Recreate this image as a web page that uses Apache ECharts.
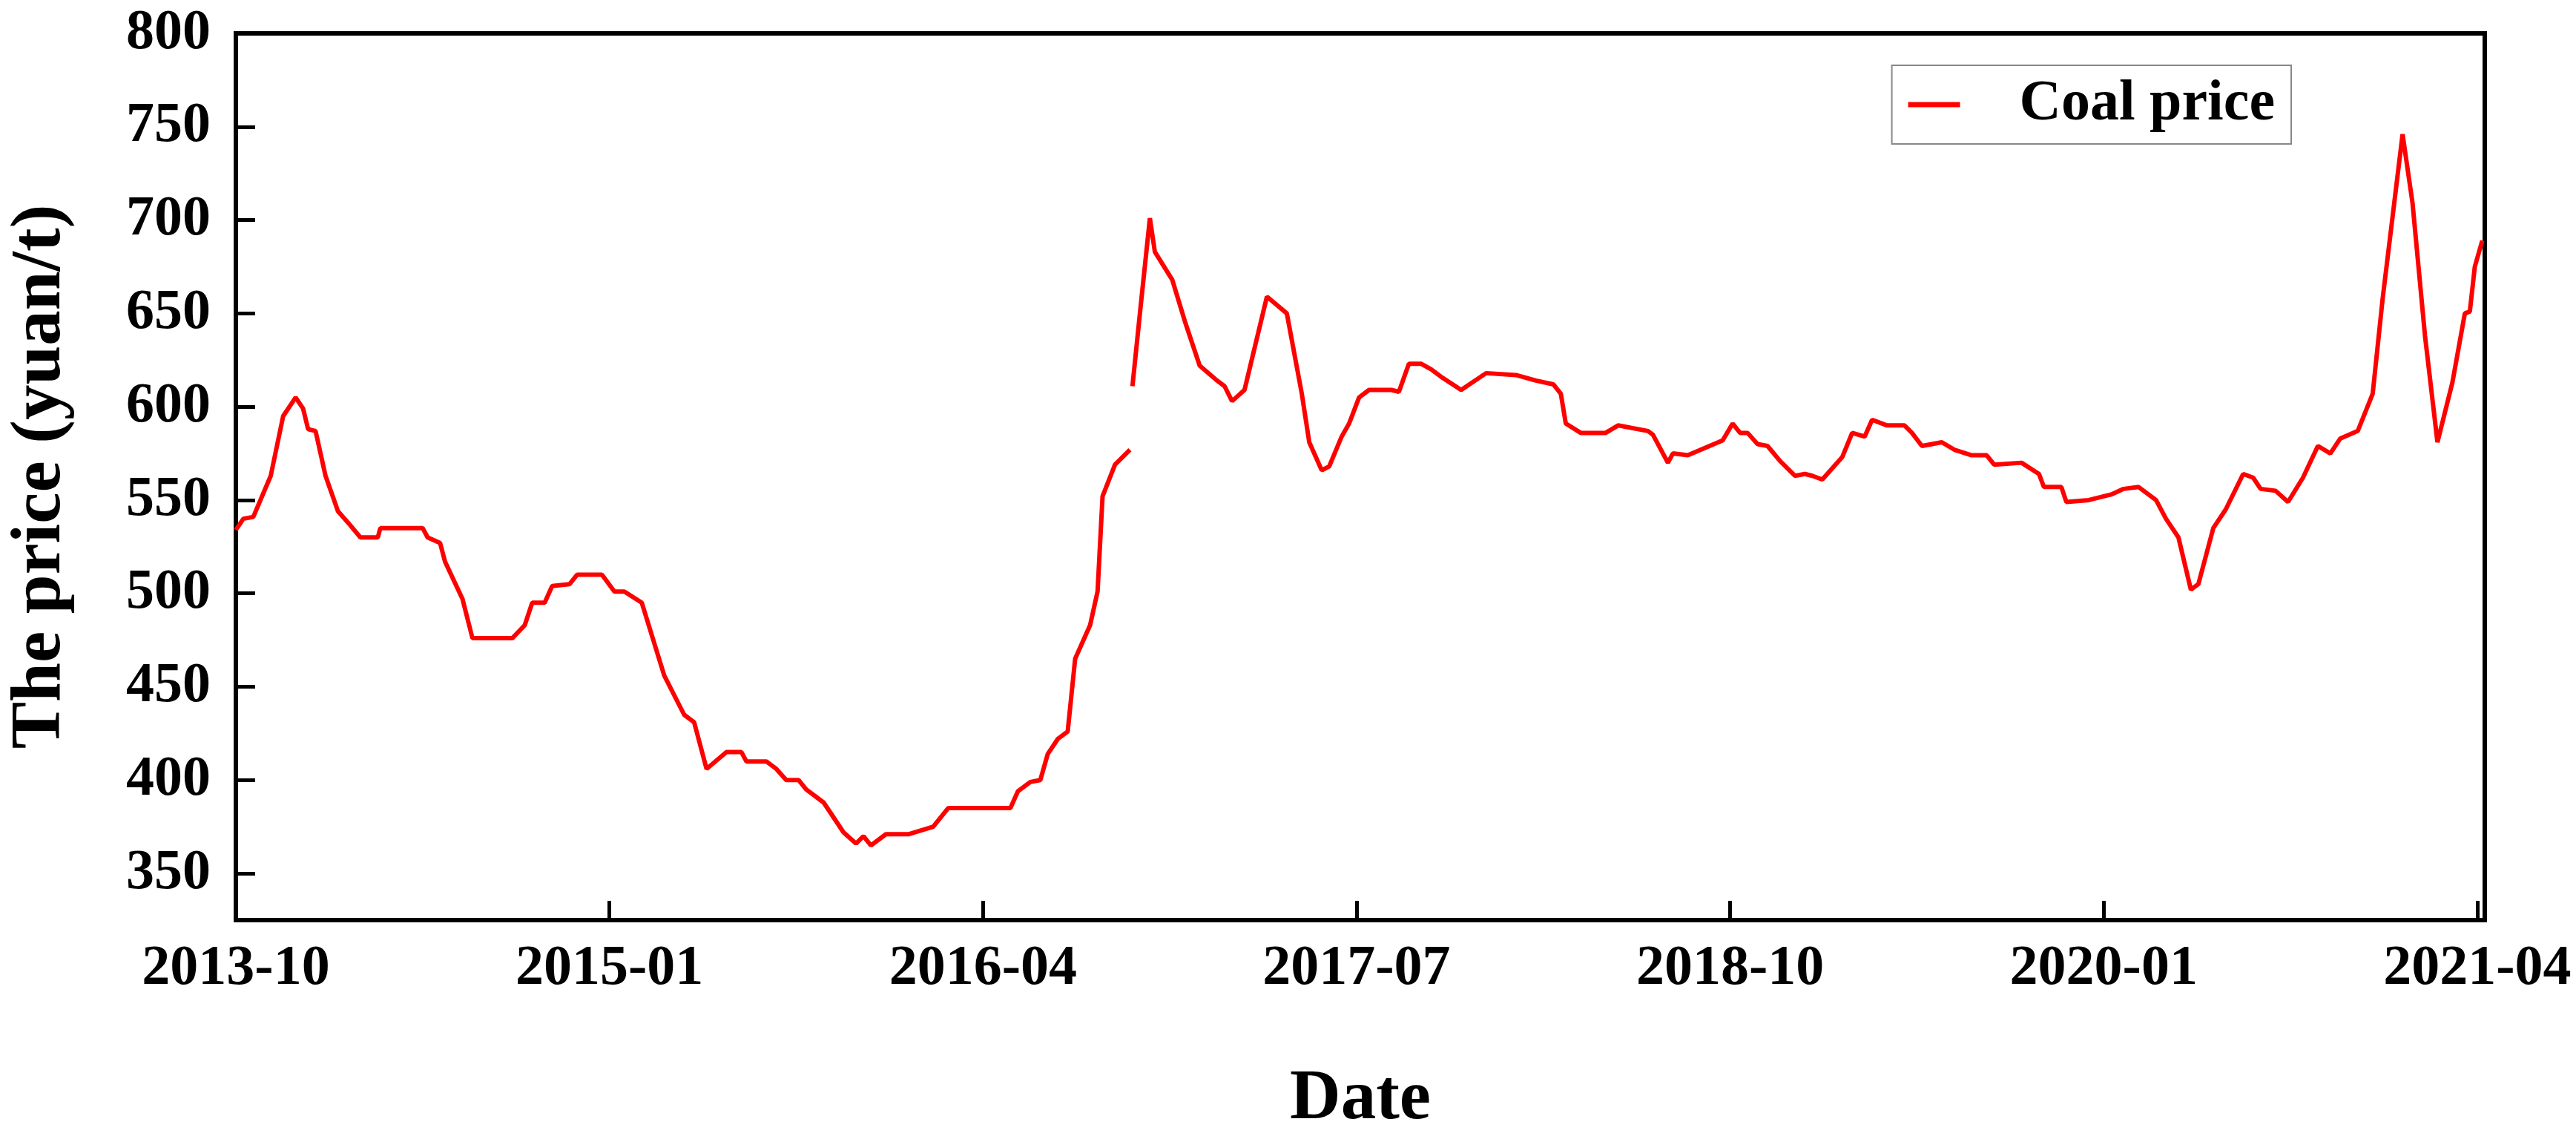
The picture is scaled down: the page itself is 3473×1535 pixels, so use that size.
<!DOCTYPE html>
<html lang="en">
<head>
  <meta charset="UTF-8">
  <title>Coal price</title>
  <script src="https://cdn.jsdelivr.net/npm/echarts@6/dist/echarts.min.js"></script>
</head>
<body style="margin:0">
  <div id="main" style="width:3473px;height:1535px;"></div>
<script>
  // months counted from 2013-10
  let months = [0,0.3,0.7,1.4,1.9,2.4,2.7,2.9,3.2,3.6,4.1,4.5,5.0,5.7,5.8,7.5,7.7,8.2,8.4,9.1,9.5,11.1,11.6,11.9,12.4,12.7,13.4,13.7,14.7,15.2,15.6,16.3,17.2,18.0,18.4,18.9,19.7,20.3,20.5,21.3,21.7,22.1,22.6,22.9,23.6,24.4,24.9,25.2,25.5,26.1,27.0,28.0,28.6,31.1,31.4,31.9,32.3,32.6,33.0,33.4,33.7,34.3,34.6,34.8,35.3,35.9,
    35.95,
    36.0,36.3,36.7,36.9,37.6,38.1,38.7,39.4,39.7,40.0,40.5,41.4,42.2,42.8,43.1,43.6,43.9,44.4,44.7,45.1,45.5,46.4,46.7,47.1,47.6,48.0,48.4,49.2,50.2,51.4,52.2,52.9,53.2,53.4,54.0,55.0,55.5,56.7,56.9,57.5,57.7,58.3,59.7,60.1,60.4,60.7,61.1,61.5,62.0,62.6,63.0,63.3,63.7,64.5,64.9,65.4,65.7,66.3,67.0,67.3,67.7,68.5,69.0,69.7,70.3,70.6,71.7,72.4,72.6,73.3,73.5,74.4,75.3,75.8,76.4,77.1,77.5,78.0,78.5,78.8,79.4,79.9,80.6,81.0,81.3,81.9,82.4,83.0,83.6,84.1,84.5,85.2,85.8,86.2,87.0,87.4,87.9,88.4,89.0,89.5,89.7,89.9,90.2]
  let prices = [534,540,541,563,595,605,599,588,587,563,544,538,530,530,535,535,530,527,517,497,476,476,483,495,495,504,505,510,510,501,501,495,456,435,431,406,415,415,410,410,406,400,400,395,388,372,366,370,365,371,371,375,385,385,394,399,400,414,422,426,465,483,501,552,569,577,
    null,
    611,650,701,683,668,646,622,614,611,603,609,659,650,607,581,566,568,584,591,605,609,609,608,623,623,620,616,609,618,617,614,612,607,591,586,586,590,587,585,570,575,574,582,591,586,586,580,579,571,563,564,563,561,573,586,584,593,590,590,586,579,581,577,574,574,569,570,564,557,557,549,550,553,556,557,550,540,530,502,505,535,545,564,562,556,555,549,562,579,575,583,587,607,658,746,709,638,581,613,650,651,675,689]
  let tickMonths = [0,15,30,45,60,75,90]
  let tickLabels = ['2013-10','2015-01','2016-04','2017-07','2018-10','2020-01','2021-04']
  let yTicks = [350,400,450,500,550,600,650,700,750,800]

  let font = 'Liberation Serif'
  let myCharts = echarts.init(document.getElementById('main'))
  let option = {
    animation: false,
    grid: { left: 285, right: 123, top: 45, bottom: 286, show: true, borderColor: '#000', borderWidth: 6 },
    legend: {
      right: 384, top: 88, itemWidth: 190, itemHeight: 7, itemGap: 20,
      padding: [14, 22, 14, 22],
      borderColor: '#888', borderWidth: 2,
      textStyle: { fontFamily: font, fontWeight: 'bold', fontSize: 78, color: '#000', padding: [0, 0, 0, 15] },
      data: [{ name: 'Coal price', icon: 'path://M0,0H10V1H0Z' }]
    },
    xAxis: {
      type: 'value', min: 0, max: 90.3,
      name: 'Date', nameLocation: 'middle', nameGap: 195,
      nameTextStyle: { fontFamily: font, fontWeight: 'bold', fontSize: 95, color: '#000' },
      axisLine: { lineStyle: { color: '#000', width: 6 } },
      axisTick: { inside: true, length: 26, customValues: tickMonths, lineStyle: { width: 5, color: '#000' } },
      axisLabel: {
        customValues: tickMonths, margin: 28,
        fontFamily: font, fontWeight: 'bold', fontSize: 76, color: '#000',
        formatter: (v) => tickLabels[tickMonths.indexOf(v)] || ''
      },
      splitLine: { show: false }
    },
    yAxis: {
      type: 'value', min: 325, max: 800,
      name: 'The price (yuan/t)', nameLocation: 'middle', nameGap: 215,
      nameTextStyle: { fontFamily: font, fontWeight: 'bold', fontSize: 95, color: '#000' },
      axisLine: { show: true, lineStyle: { color: '#000', width: 6 } },
      axisTick: { show: true, inside: true, length: 26, customValues: yTicks, lineStyle: { width: 5, color: '#000' } },
      axisLabel: { customValues: yTicks, margin: 34, fontFamily: font, fontWeight: 'bold', fontSize: 76, color: '#000' },
      splitLine: { show: false }
    },
    series: [{
      name: 'Coal price', type: 'line', showSymbol: false, connectNulls: false,
      lineStyle: { color: '#ff0000', width: 6 }, itemStyle: { color: '#ff0000' },
      data: months.map((m, i) => [m, prices[i]])
    }]
  }
  myCharts.setOption(option)
</script>
</body>
</html>
